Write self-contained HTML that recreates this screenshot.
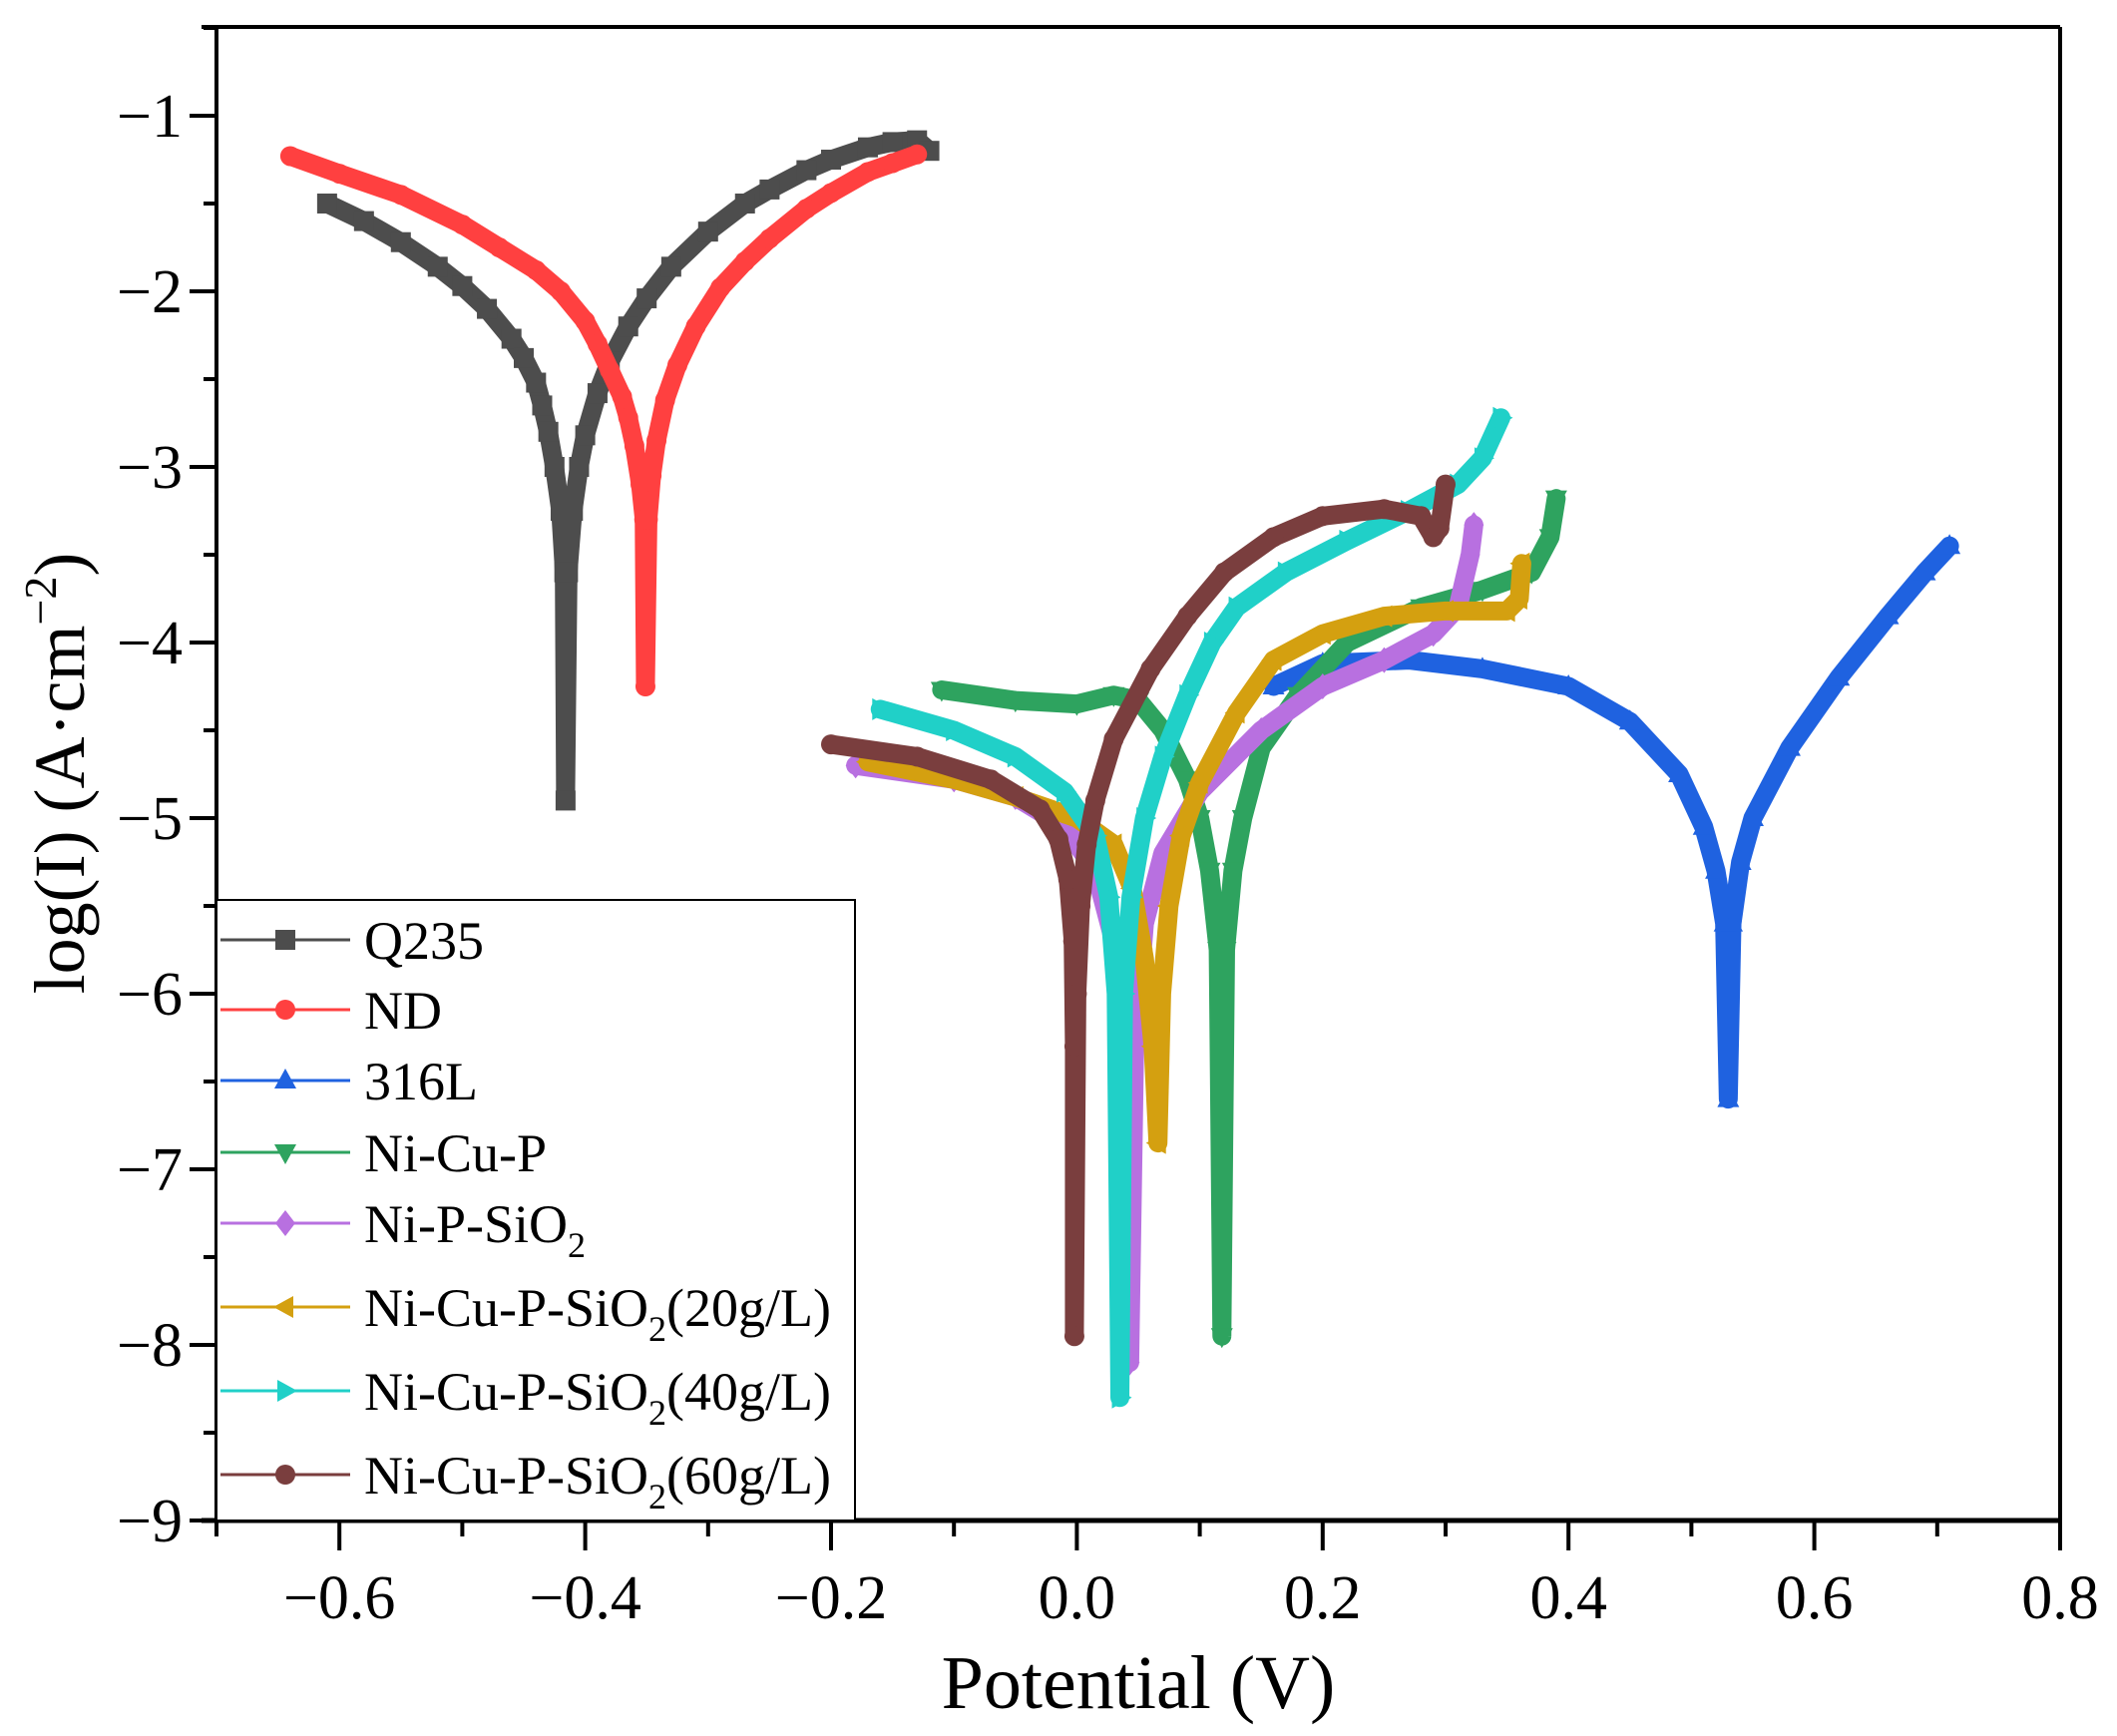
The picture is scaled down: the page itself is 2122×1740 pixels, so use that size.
<!DOCTYPE html>
<html><head><meta charset="utf-8"><style>
html,body{margin:0;padding:0;background:#fff}
svg{display:block}
text{font-family:"Liberation Serif",serif;fill:#000}
</style></head><body>
<svg id="chart" width="2122" height="1740" viewBox="0 0 2122 1740">
<rect x="217" y="27" width="1848" height="1497" fill="#fff" stroke="none"/>
<g id="series"></g>
<g id="axes"></g>
<g id="legend"></g>
<text x="1141" y="1712" font-size="76" text-anchor="middle">Potential (V)</text>
<text transform="translate(84,775) rotate(-90)" font-size="72" text-anchor="middle">log(I) (A·cm<tspan dy="-28" font-size="46">−2</tspan><tspan dy="28">)</tspan></text>
</svg>
<script>
const xTicks=[-0.6,-0.4,-0.2,0.0,0.2,0.4,0.6,0.8];
const xTickLabels=["−0.6","−0.4","−0.2","0.0","0.2","0.4","0.6","0.8"];
const yTicks=[-1,-2,-3,-4,-5,-6,-7,-8,-9];
const yTickLabels=["−1","−2","−3","−4","−5","−6","−7","−8","−9"];
const seriesNames=["Q235","ND","316L","Ni-Cu-P","Ni-P-SiO2","Ni-Cu-P-SiO2(20g/L)","Ni-Cu-P-SiO2(40g/L)","Ni-Cu-P-SiO2(60g/L)"];
const q235X=[-0.61,-0.58,-0.55,-0.52,-0.5,-0.48,-0.46,-0.45,-0.44,-0.435,-0.43,-0.425,-0.42,-0.417,-0.416,-0.414,-0.41,-0.405,-0.40,-0.39,-0.38,-0.365,-0.35,-0.33,-0.3,-0.27,-0.25,-0.22,-0.2,-0.17,-0.15,-0.13,-0.12];
const q235Y=[-1.5,-1.6,-1.72,-1.86,-1.97,-2.1,-2.27,-2.38,-2.52,-2.65,-2.8,-3.0,-3.25,-3.6,-4.9,-3.6,-3.25,-3.0,-2.82,-2.58,-2.4,-2.2,-2.04,-1.86,-1.66,-1.5,-1.42,-1.31,-1.25,-1.18,-1.15,-1.14,-1.2];
const ndX=[-0.64,-0.6,-0.55,-0.5,-0.47,-0.44,-0.42,-0.4,-0.39,-0.38,-0.37,-0.365,-0.36,-0.355,-0.352,-0.351,-0.349,-0.346,-0.342,-0.335,-0.325,-0.31,-0.29,-0.27,-0.25,-0.22,-0.2,-0.17,-0.15,-0.13];
const ndY=[-1.23,-1.33,-1.45,-1.62,-1.75,-1.88,-2.0,-2.17,-2.3,-2.45,-2.6,-2.72,-2.88,-3.1,-3.3,-4.25,-3.3,-3.05,-2.85,-2.62,-2.42,-2.2,-1.98,-1.83,-1.7,-1.53,-1.44,-1.32,-1.27,-1.22];
const s316X=[0.16,0.2,0.27,0.33,0.4,0.45,0.49,0.51,0.52,0.527,0.53,0.533,0.54,0.55,0.58,0.62,0.66,0.69,0.71];
const s316Y=[-4.25,-4.12,-4.1,-4.15,-4.25,-4.45,-4.75,-5.05,-5.3,-5.6,-6.6,-5.6,-5.25,-5.0,-4.6,-4.2,-3.85,-3.6,-3.45];
const ncpX=[-0.11,-0.05,0.0,0.03,0.05,0.07,0.09,0.1,0.108,0.115,0.118,0.121,0.127,0.135,0.15,0.18,0.22,0.28,0.33,0.37,0.385,0.39];
const ncpY=[-4.27,-4.33,-4.35,-4.3,-4.33,-4.5,-4.78,-5.0,-5.3,-5.75,-7.95,-5.75,-5.3,-5.0,-4.6,-4.3,-4.0,-3.8,-3.7,-3.6,-3.4,-3.18];
const npsX=[-0.18,-0.1,-0.05,-0.01,0.015,0.03,0.038,0.043,0.047,0.055,0.07,0.1,0.15,0.2,0.25,0.29,0.31,0.32,0.323];
const npsY=[-4.7,-4.78,-4.88,-5.05,-5.3,-5.7,-6.3,-8.1,-6.3,-5.6,-5.2,-4.85,-4.5,-4.25,-4.1,-3.95,-3.8,-3.5,-3.33];
const s20X=[-0.17,-0.1,-0.05,0.0,0.03,0.045,0.055,0.062,0.066,0.069,0.075,0.085,0.1,0.13,0.16,0.2,0.25,0.3,0.35,0.36,0.362];
const s20Y=[-4.68,-4.78,-4.88,-5.0,-5.15,-5.4,-5.8,-6.3,-6.85,-6.0,-5.5,-5.1,-4.8,-4.4,-4.1,-3.95,-3.85,-3.82,-3.82,-3.75,-3.55];
const s40X=[-0.16,-0.1,-0.05,-0.01,0.015,0.026,0.032,0.035,0.038,0.044,0.055,0.07,0.09,0.11,0.13,0.17,0.22,0.27,0.31,0.33,0.345];
const s40Y=[-4.38,-4.5,-4.65,-4.85,-5.1,-5.45,-6.0,-8.3,-6.0,-5.45,-5.0,-4.65,-4.3,-4.0,-3.8,-3.6,-3.42,-3.25,-3.1,-2.95,-2.72];
const s60X=[-0.2,-0.13,-0.07,-0.03,-0.015,-0.007,-0.003,-0.002,-0.002,0.0,0.003,0.008,0.015,0.03,0.06,0.09,0.12,0.16,0.2,0.25,0.28,0.29,0.295,0.3];
const s60Y=[-4.58,-4.65,-4.78,-4.95,-5.12,-5.35,-5.7,-6.3,-7.95,-6.0,-5.5,-5.15,-4.9,-4.55,-4.15,-3.85,-3.6,-3.4,-3.28,-3.24,-3.28,-3.4,-3.35,-3.1];

const NS="http://www.w3.org/2000/svg";
const X0=217,X1=2065,Y0=27,Y1=1524;
function sx(v){return X0+(v+0.7)/1.5*(X1-X0);}
function sy(v){return 116+(-1-v)*176;}
function mk(tag,attrs,parent){const e=document.createElementNS(NS,tag);for(const k in attrs)e.setAttribute(k,attrs[k]);parent.appendChild(e);return e;}
const colors=["#4d4d4d","#ff4040","#1f62e0","#2ea35f","#b870e0","#d4a010","#20d0c8","#7a3e3e"];
const shapes=["square","circle","up","down","diamond","left","right","hex"];
const allX=[q235X,ndX,s316X,ncpX,npsX,s20X,s40X,s60X];
const allY=[q235Y,ndY,s316Y,ncpY,npsY,s20Y,s40Y,s60Y];
function marker(shape,cx,cy,r,color,parent){
  let e;
  if(shape==="square")e=mk("rect",{x:cx-r,y:cy-r,width:2*r,height:2*r,fill:color},parent);
  else if(shape==="circle"||shape==="hex")e=mk("circle",{cx:cx,cy:cy,r:r,fill:color},parent);
  else{let p;
    if(shape==="up")p=[[0,-r*1.2],[r*1.1,r*0.8],[-r*1.1,r*0.8]];
    if(shape==="down")p=[[0,r*1.2],[r*1.1,-r*0.8],[-r*1.1,-r*0.8]];
    if(shape==="left")p=[[-r*1.2,0],[r*0.8,r*1.1],[r*0.8,-r*1.1]];
    if(shape==="right")p=[[r*1.2,0],[-r*0.8,r*1.1],[-r*0.8,-r*1.1]];
    if(shape==="diamond")p=[[0,-r*1.3],[r,0],[0,r*1.3],[-r,0]];
    e=mk("polygon",{points:p.map(q=>(cx+q[0])+","+(cy+q[1])).join(" "),fill:color},parent);}
  return e;
}
const sg=document.getElementById("series");
allX.forEach((xs,i)=>{
  const g=mk("g",{},sg);
  
  
  const pts=xs.map((x,j)=>sx(x)+","+sy(allY[i][j])).join(" ");
  const pl=mk("polyline",{points:pts,fill:"none",stroke:colors[i],"stroke-width":19,"stroke-linejoin":"round","stroke-linecap":"round"},g);
  
  
  xs.forEach((x,j)=>{
    const m=marker(shapes[i],sx(x),sy(allY[i][j]),10,colors[i],g);
    
    
  });
});
const ax=document.getElementById("axes");
mk("line",{x1:202,y1:27,x2:X1,y2:27,stroke:"#000","stroke-width":4},ax);
mk("line",{x1:X0,y1:27,x2:X0,y2:Y1,stroke:"#000","stroke-width":4},ax);
mk("line",{x1:X1,y1:27,x2:X1,y2:Y1,stroke:"#000","stroke-width":4},ax);
mk("line",{x1:202,y1:Y1,x2:X1,y2:Y1,stroke:"#000","stroke-width":5},ax);
yTicks.forEach((v,i)=>{
  const y=sy(v);
  mk("line",{x1:X0-27,y1:y,x2:X0,y2:y,stroke:"#000","stroke-width":4},ax);
  if(i<yTicks.length-1)mk("line",{x1:X0-13,y1:y+88,x2:X0,y2:y+88,stroke:"#000","stroke-width":4},ax);
  const t=mk("text",{x:X0-34,y:y+21,"font-size":62,"text-anchor":"end"},ax);
  t.textContent=yTickLabels[i];
  
  
});
mk("line",{x1:X0-13,y1:sy(-1)-88,x2:X0,y2:sy(-1)-88,stroke:"#000","stroke-width":4},ax);
for(let k=-7;k<=8;k++){
  const v=k/10,x=sx(v),major=(k%2===0);
  mk("line",{x1:x,y1:Y1,x2:x,y2:Y1+(major?30:16),stroke:"#000","stroke-width":4},ax);
}
xTicks.forEach((v,i)=>{
  const t=mk("text",{x:sx(v),y:1622,"font-size":62,"text-anchor":"middle"},ax);
  t.textContent=xTickLabels[i];
  
  
});
const lg=document.getElementById("legend");
mk("rect",{x:217,y:902,width:640,height:622,fill:"#fff",stroke:"#000","stroke-width":2},lg);
const rowY=[942,1012,1083,1155,1226,1310,1394,1478];
const labels=["Q235","ND","316L","Ni-Cu-P","Ni-P-SiO|2|","Ni-Cu-P-SiO|2|(20g/L)","Ni-Cu-P-SiO|2|(40g/L)","Ni-Cu-P-SiO|2|(60g/L)"];
rowY.forEach((y,i)=>{
  const g=mk("g",{},lg);
  
  
  mk("line",{x1:221,y1:y,x2:351,y2:y,stroke:colors[i],"stroke-width":3},g);
  marker(shapes[i],286,y,10,colors[i],g);
  const t=mk("text",{x:365,y:y+19,"font-size":54},g);
  const parts=labels[i].split("|");
  parts.forEach((p,k)=>{
    const ts=mk("tspan",k===1?{"font-size":36,dy:15}:(k===2?{dy:-15}:{}),t);
    ts.textContent=p;
  });
});
</script>
</body></html>
